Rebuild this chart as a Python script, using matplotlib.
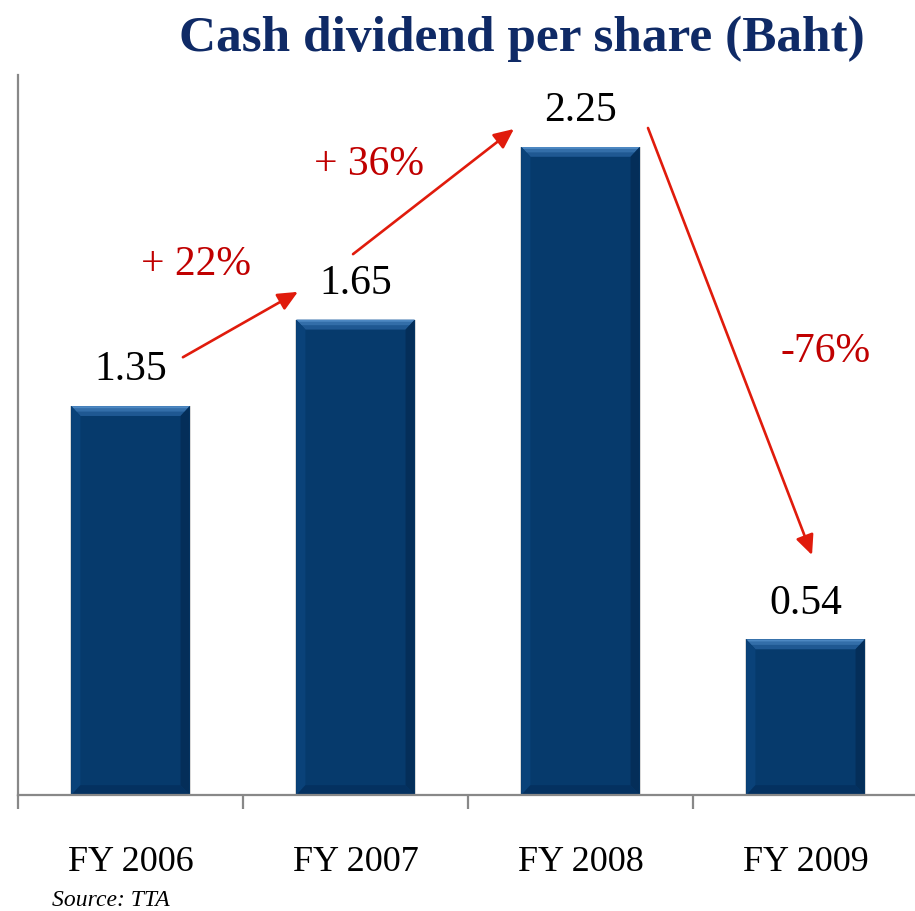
import matplotlib
matplotlib.use("Agg")
import matplotlib.pyplot as plt
from matplotlib.patches import Polygon

categories = ["FY 2006", "FY 2007", "FY 2008", "FY 2009"]
values = [1.35, 1.65, 2.25, 0.54]
value_labels = ["1.35", "1.65", "2.25", "0.54"]
changes = ["+ 22%", "+ 36%", "-76%"]

title = "Cash dividend per share (Baht)"
source = "Source: TTA"

W, H = 915, 911
fig = plt.figure(figsize=(W / 100, H / 100), dpi=100)
ax = fig.add_axes([18 / W, (H - 795) / H, 900 / W, 720 / H])
ax.set_xlim(-0.5, 3.5)
ax.set_ylim(0, 2.5)

serif = ["Liberation Serif", "DejaVu Serif"]
navy = "#063a6c"
red_txt = "#c00000"
red_arrow = "#e01b0c"

bw = 0.525
x = list(range(len(categories)))
ax.bar(x, values, width=bw, color=navy, zorder=3, edgecolor="none")

# bevel decorations derived from bars
dx, dy = 0.04, 0.034
for xi, v, lab in zip(x, values, value_labels):
    x0, x1 = xi - bw / 2, xi + bw / 2
    # soft shadow
    ax.add_patch(Polygon([(x0 - 0.006, 0), (x1 + 0.008, 0), (x1 + 0.008, v), (x0 - 0.006, v)],
                         closed=True, color="#d8d8d8", zorder=2, lw=0))
    ax.add_patch(Polygon([(x0, v), (x1, v), (x1 - dx, v - dy), (x0 + dx, v - dy)],
                         closed=True, color="#1f5892", zorder=4, lw=0))
    ax.add_patch(Polygon([(x0, v), (x1, v), (x1 - dx * 0.55, v - dy * 0.55), (x0 + dx * 0.55, v - dy * 0.55)],
                         closed=True, color="#336ea9", zorder=4, lw=0))
    ax.add_patch(Polygon([(x0, v), (x1, v), (x1 - dx * 0.2, v - dy * 0.2), (x0 + dx * 0.2, v - dy * 0.2)],
                         closed=True, color="#4d88c2", zorder=4, lw=0))
    ax.add_patch(Polygon([(x0, v), (x0 + dx, v - dy), (x0 + dx, dy), (x0, 0)],
                         closed=True, color="#0a4279", zorder=4, lw=0))
    ax.add_patch(Polygon([(x1, v), (x1 - dx, v - dy), (x1 - dx, dy), (x1, 0)],
                         closed=True, color="#042e59", zorder=4, lw=0))
    ax.add_patch(Polygon([(x0, 0), (x1, 0), (x1 - dx, dy), (x0 + dx, dy)],
                         closed=True, color="#043160", zorder=4, lw=0))
    ax.text(xi, v + 0.125, lab, ha="center", va="center",
            fontsize=30, family=serif, color="black", zorder=5)

# growth arrows
arrows = [((0.233, 1.52), (0.744, 1.747)),
          ((0.989, 1.878), (1.704, 2.3125)),
          ((2.30, 2.316), (3.029, 0.833))]
label_pos = [(0.291, 1.84), (1.06, 2.19), (3.087, 1.538)]
for (s, e), txt, (lx, ly) in zip(arrows, changes, label_pos):
    ax.annotate("", xy=e, xytext=s,
                arrowprops=dict(arrowstyle="-|>,head_length=1.2,head_width=0.55",
                                color=red_arrow, lw=1.9, shrinkA=0, shrinkB=0),
                zorder=6)
    ax.text(lx, ly, txt, ha="center", va="center", fontsize=30, family=serif,
            color=red_txt, zorder=6)

for sp in ["top", "right"]:
    ax.spines[sp].set_visible(False)
for sp in ["left", "bottom"]:
    ax.spines[sp].set_color("#888888")
    ax.spines[sp].set_linewidth(1.6)
    ax.spines[sp].set_zorder(7)

ax.set_yticks([])
ax.set_xticks(x)
ax.set_xticklabels(categories, fontsize=26, family=serif)
ax.set_xticks([-0.5, 0.5, 1.5, 2.5, 3.5], minor=True)
ax.tick_params(axis="x", which="major", length=0, pad=37)
ax.tick_params(axis="x", which="minor", length=10, width=1.6, color="#888888", direction="out")

fig.text(522 / W, 1 - 39 / H, title, ha="center", va="center", fontsize=37,
         fontweight="bold", family=serif, color="#0f2a66")
fig.text(52 / W, 1 - 900 / H, source, ha="left", va="center", fontsize=17,
         style="italic", family=serif, color="black")

fig.savefig("out.png", dpi=100)
